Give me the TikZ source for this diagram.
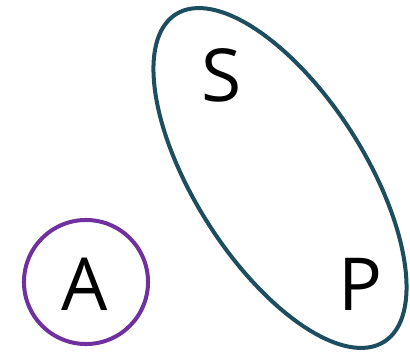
\documentclass[tikz,border=0pt]{standalone}
\usepackage{fontspec}
\setmainfont{Open Sans}
\usetikzlibrary{shapes.geometric}
\definecolor{myPurple}{HTML}{7030A0}
\definecolor{myTeal}{HTML}{1D4E5F}

\begin{document}
\begin{tikzpicture}[
x=0.025cm, y=-0.025cm,
letter/.style={inner sep=0pt, font=\fontsize{52}{60}\selectfont},
ring/.style={draw, line width=2.85pt}
]
\useasboundingbox (0,0) rectangle (410,355);

\node[ring, myPurple, circle, minimum size=3.1cm] (circA) at (86,282) {};
\node[ring, myTeal, ellipse, rotate=-57.5, minimum width=9.7cm, minimum height=4.25cm] (setSP) at (280,178) {};

\node[letter] (A) at (85,284) {A};
\node[letter] (S) at (222,75) {S};
\node[letter] (P) at (361,284) {P};
\end{tikzpicture}
\end{document}
